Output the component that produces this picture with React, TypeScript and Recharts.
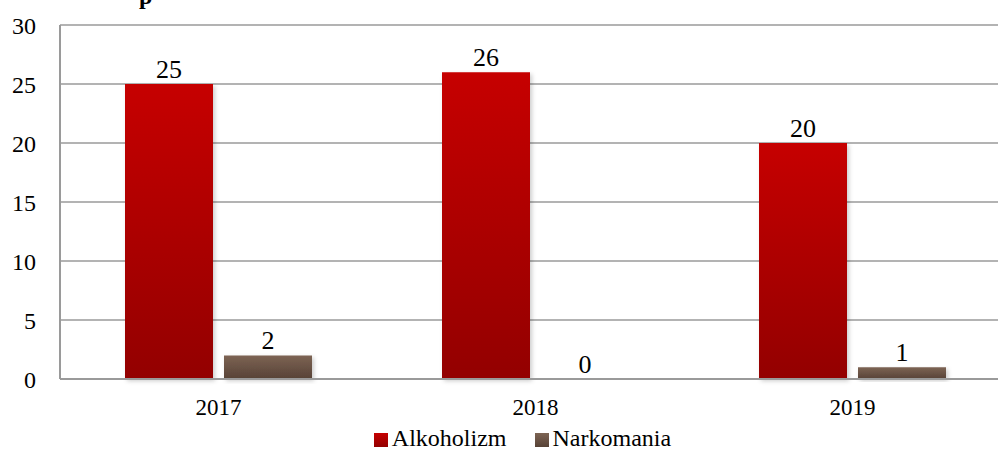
import { BarChart, Bar, XAxis, YAxis, CartesianGrid, Legend, LabelList } from "recharts";

const years = ["2017", "2018", "2019"];
const alkoholizm = [25, 26, 20];
const narkomania = [2, 0, 1];
const yTicks = [0, 5, 10, 15, 20, 25, 30];

const data = years.map((year, i) => ({
  year,
  Alkoholizm: alkoholizm[i],
  Narkomania: narkomania[i],
}));

const font = '"Times New Roman", Times, "Liberation Serif", Tinos, "DejaVu Serif", "Noto Serif", serif';

const App = () => {
  return (
    <div
      style={{
        position: "absolute",
        left: 0,
        top: 0,
        width: 998,
        height: 450,
        overflow: "hidden",
        background: "#fff",
        fontFamily: font,
      }}
    >
      {/* top of the chart title is cut off in the original */}
      <div
        style={{
          position: "absolute",
          left: 139,
          top: -17,
          fontSize: 24,
          fontWeight: "bold",
          fontFamily: font,
        }}
      >
        p
      </div>
      <BarChart
        width={1021}
        height={450}
        data={data}
        margin={{ top: 25, right: 10, bottom: 0, left: 0 }}
        barCategoryGap={65}
        barGap={11}
        style={{ fontFamily: font }}
      >
        <defs>
          <linearGradient id="gradAlk" x1="0" y1="0" x2="0" y2="1">
            <stop offset="0%" stopColor="#c60000" />
            <stop offset="100%" stopColor="#930000" />
          </linearGradient>
          <linearGradient id="gradNark" x1="0" y1="0" x2="0" y2="1">
            <stop offset="0%" stopColor="#7d6454" />
            <stop offset="100%" stopColor="#574236" />
          </linearGradient>
          <filter id="shadow" x="-10%" y="-10%" width="130%" height="130%">
            <feDropShadow dx="2" dy="2" stdDeviation="2" floodColor="#000" floodOpacity="0.2" />
          </filter>
        </defs>
        <CartesianGrid vertical={false} stroke="#9a9a9a" strokeWidth={1.5} />
        <XAxis
          dataKey="year"
          axisLine={{ stroke: "#9a9a9a", strokeWidth: 2 }}
          tickLine={false}
          tick={{ fill: "#000", fontSize: 23, fontFamily: font }}
          tickMargin={14}
          height={42}
        />
        <YAxis
          domain={[0, 30]}
          ticks={yTicks}
          axisLine={{ stroke: "#9a9a9a", strokeWidth: 2 }}
          tickLine={false}
          tick={{ fill: "#000", fontSize: 24, fontFamily: font }}
          tickMargin={18}
          width={60}
        />
        <Legend
          iconType="square"
          iconSize={14}
          wrapperStyle={{ fontFamily: font, fontSize: 24, left: 22, lineHeight: "29px", bottom: -3 }}
          formatter={(value) => (
            <span
              style={{
                color: "#000",
                fontFamily: font,
                fontSize: 24,
                paddingRight: value === "Alkoholizm" ? 18 : 0,
              }}
            >
              {value}
            </span>
          )}
        />
        <Bar
          dataKey="Alkoholizm"
          fill="url(#gradAlk)"
          isAnimationActive={false}
          style={{ filter: "url(#shadow)" }}
        >
          <LabelList
            dataKey="Alkoholizm"
            position="top"
            offset={6}
            style={{ fill: "#000", fontSize: 26, fontFamily: font }}
          />
        </Bar>
        <Bar
          dataKey="Narkomania"
          fill="url(#gradNark)"
          minPointSize={0.5}
          isAnimationActive={false}
          style={{ filter: "url(#shadow)" }}
        >
          <LabelList
            dataKey="Narkomania"
            position="top"
            offset={6}
            style={{ fill: "#000", fontSize: 26, fontFamily: font }}
          />
        </Bar>
      </BarChart>
    </div>
  );
};

export default App;
